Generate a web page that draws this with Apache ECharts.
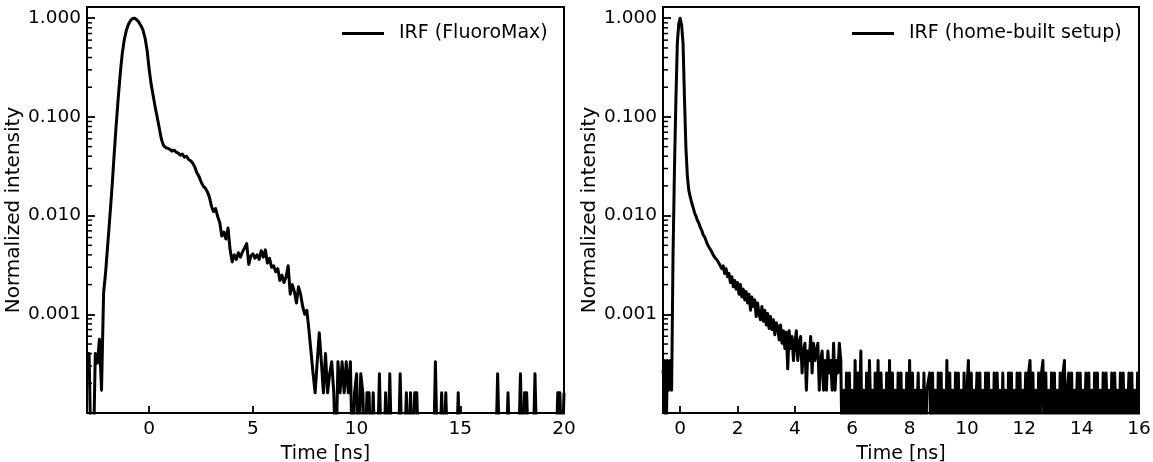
<!DOCTYPE html>
<html>
<head>
<meta charset="utf-8">
<script src="https://cdn.jsdelivr.net/npm/echarts@6/dist/echarts.min.js"></script>
<style>
html,body{margin:0;padding:0;background:#fff;}
#chart{width:1153px;height:462px;}
</style>
</head>
<body>
<div id="chart"></div>
<script>
// ---------- data ----------
const leftName = 'IRF (FluoroMax)';
const rightName = 'IRF (home-built setup)';
const leftStart = -3.0;   // ns, first sample
const leftStep = 0.1;     // ns between samples
const leftValues = [
  0.0004, 0.0004, 0.00003, 0.00003, 0.0004, 0.00032, 0.00056, 0.00017, 0.00164, 0.0027,
  0.0051, 0.0096, 0.0185, 0.039, 0.079, 0.151, 0.27, 0.44, 0.61, 0.756,
  0.87, 0.95, 0.995, 1.0, 0.965, 0.91, 0.84, 0.76, 0.63, 0.47,
  0.30, 0.21, 0.16, 0.122, 0.096, 0.074, 0.058, 0.051, 0.049, 0.048,
  0.047, 0.045, 0.046, 0.044, 0.043, 0.041, 0.042, 0.039, 0.040, 0.037,
  0.036, 0.034, 0.031, 0.027, 0.025, 0.022, 0.020, 0.019, 0.0175, 0.0155,
  0.0125, 0.0110, 0.0118, 0.0098, 0.0085, 0.0062, 0.0068, 0.0058, 0.0075, 0.0045,
  0.0034, 0.0040, 0.0036, 0.0042, 0.0038, 0.0043, 0.0047, 0.0052, 0.0032, 0.0039,
  0.0041, 0.0037, 0.0040, 0.0036, 0.0044, 0.0038, 0.0045, 0.0033, 0.0037, 0.0030,
  0.0031, 0.0027, 0.0029, 0.0022, 0.0025, 0.0021, 0.0024, 0.0031, 0.0016, 0.0020,
  0.0017, 0.0013, 0.0019, 0.0016, 0.0012, 0.0010, 0.0011, 0.0007, 0.00042, 0.00025,
  0.00016, 0.00033, 0.00065, 0.00033, 0.00016, 0.0004, 0.00016, 0.00025, 0.00033, 0.00016,
  0.00003, 0.00033, 0.00016, 0.00033, 0.00016, 0.00033, 0.00016, 0.00033, 0.00003, 0.00016,
  0.00025, 0.00003, 0.00025, 0.00016, 0.00003, 0.00016, 0.00016, 0.00003, 0.00016, 0.00003,
  0.00003, 0.00025, 0.00003, 0.00003, 0.00016, 0.00003, 0.00025, 0.00003, 0.00003, 0.00003,
  0.00003, 0.00025, 0.00003, 0.00003, 0.00016, 0.00003, 0.00016, 0.00003, 0.00016, 0.00016,
  0.00003, 0.00003, 0.00003, 0.00003, 0.00003, 0.00003, 0.00003, 0.00003, 0.00033, 0.00003,
  0.00003, 0.00016, 0.00003, 0.00016, 0.00003, 0.00003, 0.00003, 0.00003, 0.00003, 0.00016,
  0.00003, 0.00003, 0.00003, 0.00003, 0.00003, 0.00003, 0.00003, 0.00003, 0.00003, 0.00003,
  0.00003, 0.00003, 0.00003, 0.00003, 0.00003, 0.00003, 0.00003, 0.00003, 0.00025, 0.00003,
  0.00003, 0.00003, 0.00003, 0.00016, 0.00003, 0.00003, 0.00003, 0.00003, 0.00003, 0.00025,
  0.00003, 0.00016, 0.00016, 0.00003, 0.00003, 0.00003, 0.00025, 0.00003, 0.00003, 0.00003,
  0.00003, 0.00003, 0.00003, 0.00003, 0.00003, 0.00003, 0.00003, 0.00016, 0.00016, 0.00003,
  0.00016
];
const rightStart = -0.6;  // ns, first sample
const rightStep = 0.05;   // ns between samples
const rightValues = [
  0.000255, 0.00034, 0.00003, 0.00034, 0.00017, 0.00034, 0.00017, 0.004, 0.03, 0.15,
  0.56, 0.88, 1.0, 0.85, 0.55, 0.15, 0.048, 0.025, 0.018, 0.0155,
  0.0135, 0.0121, 0.0107, 0.0099, 0.0089, 0.0084, 0.0076, 0.0071, 0.0064, 0.0061,
  0.0056, 0.0051, 0.0048, 0.0046, 0.0043, 0.0040, 0.0038, 0.0037, 0.0035, 0.0033,
  0.0034, 0.0029, 0.0031, 0.0026, 0.0029, 0.0024, 0.0026, 0.0021, 0.0024, 0.0019,
  0.0022, 0.0018, 0.0021, 0.0016, 0.0020, 0.0015, 0.0018, 0.0014, 0.0017, 0.0013,
  0.0016, 0.0011, 0.0015, 0.0012, 0.0014, 0.00095, 0.0013, 0.0010, 0.00088, 0.0012,
  0.00085, 0.0011, 0.00078, 0.00102, 0.00072, 0.00095, 0.0007, 0.00088, 0.00062, 0.00082,
  0.00075, 0.00055, 0.00078, 0.00051, 0.00068, 0.00045, 0.00066, 0.00028, 0.00068, 0.00045,
  0.000595, 0.00034, 0.00051, 0.00068, 0.00034, 0.00051, 0.000595, 0.000255, 0.000425, 0.00051,
  0.00017, 0.000425, 0.00034, 0.000595, 0.000255, 0.00051, 0.00034, 0.000425, 0.00051, 0.00017,
  0.00034, 0.000425, 0.00017, 0.00034, 0.00017, 0.000425, 0.000255, 0.00034, 0.00017, 0.00051,
  0.00017, 0.00034, 0.000255, 0.00051, 0.00034, 0.00003, 0.00017, 0.00003, 0.000255, 0.00003,
  0.000255, 0.00003, 0.00017, 0.00003, 0.00034, 0.00003, 0.000255, 0.000085, 0.000425, 0.00003,
  0.00017, 0.00003, 0.000255, 0.00003, 0.00034, 0.000085, 0.00017, 0.00003, 0.000255, 0.00003,
  0.00034, 0.00003, 0.000255, 0.000085, 0.00017, 0.00003, 0.000255, 0.00003, 0.00034, 0.00003,
  0.000255, 0.00003, 0.00017, 0.00003, 0.000255, 0.000085, 0.000255, 0.00003, 0.00017, 0.00003,
  0.000255, 0.00003, 0.00034, 0.00003, 0.000255, 0.00003, 0.00017, 0.000085, 0.000255, 0.00003,
  0.00017, 0.00003, 0.000255, 0.00003, 0.00017, 0.00017, 0.000255, 0.00003, 0.000255, 0.00003,
  0.00017, 0.00003, 0.000255, 0.000085, 0.000255, 0.00003, 0.00017, 0.00003, 0.00034, 0.00003,
  0.000255, 0.00003, 0.00017, 0.00003, 0.000255, 0.000085, 0.000255, 0.00003, 0.00017, 0.00003,
  0.000255, 0.00003, 0.00017, 0.00034, 0.00003, 0.000255, 0.00003, 0.00017, 0.000085, 0.000255,
  0.00003, 0.000255, 0.00003, 0.00017, 0.00003, 0.000255, 0.000085, 0.000255, 0.00003, 0.00017,
  0.00003, 0.000255, 0.00003, 0.000255, 0.000085, 0.00017, 0.00003, 0.000255, 0.00003, 0.00017,
  0.00003, 0.000255, 0.000085, 0.000255, 0.00003, 0.00017, 0.00003, 0.000255, 0.00003, 0.000255,
  0.00003, 0.00017, 0.000085, 0.000255, 0.00003, 0.000255, 0.00034, 0.00003, 0.000255, 0.00003,
  0.00017, 0.00003, 0.000255, 0.000085, 0.000255, 0.00034, 0.00003, 0.000255, 0.00003, 0.00017,
  0.00003, 0.000255, 0.000085, 0.000255, 0.00003, 0.00017, 0.00003, 0.000255, 0.00003, 0.000255,
  0.00034, 0.00003, 0.00017, 0.000255, 0.00003, 0.000255, 0.00003, 0.00017, 0.000085, 0.000255,
  0.00003, 0.000255, 0.00003, 0.00017, 0.000085, 0.000255, 0.00003, 0.000255, 0.00003, 0.00017,
  0.00003, 0.000255, 0.000085, 0.000255, 0.00003, 0.00017, 0.00003, 0.000255, 0.00003, 0.000255,
  0.000085, 0.00017, 0.00003, 0.000255, 0.00003, 0.000255, 0.000085, 0.00017, 0.00003, 0.000255,
  0.00003, 0.000255, 0.00003, 0.00017, 0.000085, 0.000255, 0.00003, 0.000255, 0.00003, 0.00017,
  0.00003, 0.000255, 0.00003
];
const leftXTicks = [0, 5, 10, 15, 20];
const rightXTicks = [0, 2, 4, 6, 8, 10, 12, 14, 16];
const leftXRange = [-3, 20];
const rightXRange = [-0.6, 16];
const yRange = [0.0001, 1.3];
const yLabelValues = [0.001, 0.01, 0.1, 1];
const yMinorValues = [
  0.0002, 0.0003, 0.0004, 0.0005, 0.0006, 0.0007, 0.0008, 0.0009,
  0.002, 0.003, 0.004, 0.005, 0.006, 0.007, 0.008, 0.009,
  0.02, 0.03, 0.04, 0.05, 0.06, 0.07, 0.08, 0.09,
  0.2, 0.3, 0.4, 0.5, 0.6, 0.7, 0.8, 0.9
];
const xName = 'Time [ns]';
const yName = 'Normalized intensity';

// ---------- chart ----------
const FONT = 'DejaVu Sans';
const toPairs = (start, step, vals) => vals.map((v, i) => [+(start + i * step).toFixed(3), v]);

function yFmt(v) {
  for (const t of yLabelValues) {
    if (Math.abs(Math.log10(v) - Math.log10(t)) < 1e-6) return t.toFixed(3);
  }
  return '';
}

function xAxisCfg(gi, range, ticks) {
  return {
    type: 'value', gridIndex: gi, min: range[0], max: range[1],
    name: xName, nameLocation: 'middle', nameGap: 32,
    nameTextStyle: {fontFamily: FONT, fontSize: 19, color: '#000'},
    axisLine: {show: false, onZero: false},
    axisTick: {show: true, inside: true, length: 7, customValues: ticks, lineStyle: {color: '#000', width: 1.8}},
    axisLabel: {show: true, customValues: ticks, margin: 7, fontFamily: FONT, fontSize: 18.5, color: '#000'},
    splitLine: {show: false}
  };
}
function yAxisCfg(gi) {
  return {
    type: 'log', logBase: 10, gridIndex: gi, min: yRange[0], max: yRange[1],
    name: yName, nameLocation: 'middle', nameGap: 63,
    nameTextStyle: {fontFamily: FONT, fontSize: 20, color: '#000'},
    axisLine: {show: false, onZero: false},
    axisTick: {show: true, inside: true, length: 8, lineStyle: {color: '#000', width: 1.8}},
    axisLabel: {show: true, margin: 6, fontFamily: FONT, fontSize: 18.5, color: '#000', formatter: yFmt},
    splitLine: {show: false},
    minorTick: {show: false}
  };
}
function minorTickSeries(ai, xmin) {
  return {
    type: 'custom', xAxisIndex: ai, yAxisIndex: ai, silent: true, clip: false,
    data: yMinorValues.map(v => [xmin, v]),
    renderItem: function (params, api) {
      const p = api.coord([api.value(0), api.value(1)]);
      return {type: 'line', shape: {x1: p[0], y1: p[1], x2: p[0] + 5, y2: p[1]},
              style: {stroke: '#000', lineWidth: 1.5}, z2: 10};
    },
    z: 6
  };
}

const legendCommon = {
  orient: 'horizontal', padding: 0, itemWidth: 42, itemHeight: 3, icon: 'rect',
  textStyle: {fontFamily: FONT, fontSize: 19, color: '#000', padding: [0, 0, 0, 10]},
  selectedMode: false
};

const gridCommon = {top: 7, bottom: 49, show: true, borderColor: '#000', borderWidth: 2,
                    backgroundColor: 'transparent', containLabel: false, outerBoundsMode: 'none'};

const option = {
  animation: false,
  backgroundColor: '#fff',
  grid: [
    Object.assign({}, gridCommon, {left: 87, right: 589}),
    Object.assign({}, gridCommon, {left: 663, right: 14})
  ],
  legend: [
    Object.assign({}, legendCommon, {data: [leftName], left: 342, top: 24}),
    Object.assign({}, legendCommon, {data: [rightName], left: 852, top: 24})
  ],
  xAxis: [xAxisCfg(0, leftXRange, leftXTicks), xAxisCfg(1, rightXRange, rightXTicks)],
  yAxis: [yAxisCfg(0), yAxisCfg(1)],
  series: [
    {
      name: leftName, type: 'line', xAxisIndex: 0, yAxisIndex: 0,
      data: toPairs(leftStart, leftStep, leftValues),
      showSymbol: false, symbol: 'none', clip: true, sampling: null,
      lineStyle: {color: '#000', width: 3, join: 'round'}, itemStyle: {color: '#000'}, z: 3
    },
    {
      name: rightName, type: 'line', xAxisIndex: 1, yAxisIndex: 1,
      data: toPairs(rightStart, rightStep, rightValues),
      showSymbol: false, symbol: 'none', clip: true, sampling: null,
      lineStyle: {color: '#000', width: 3, join: 'round'}, itemStyle: {color: '#000'}, z: 3
    },
    minorTickSeries(0, leftXRange[0]),
    minorTickSeries(1, rightXRange[0])
  ]
};

const chart = echarts.init(document.getElementById('chart'), null, {renderer: 'canvas'});
chart.setOption(option);
</script>
</body>
</html>
